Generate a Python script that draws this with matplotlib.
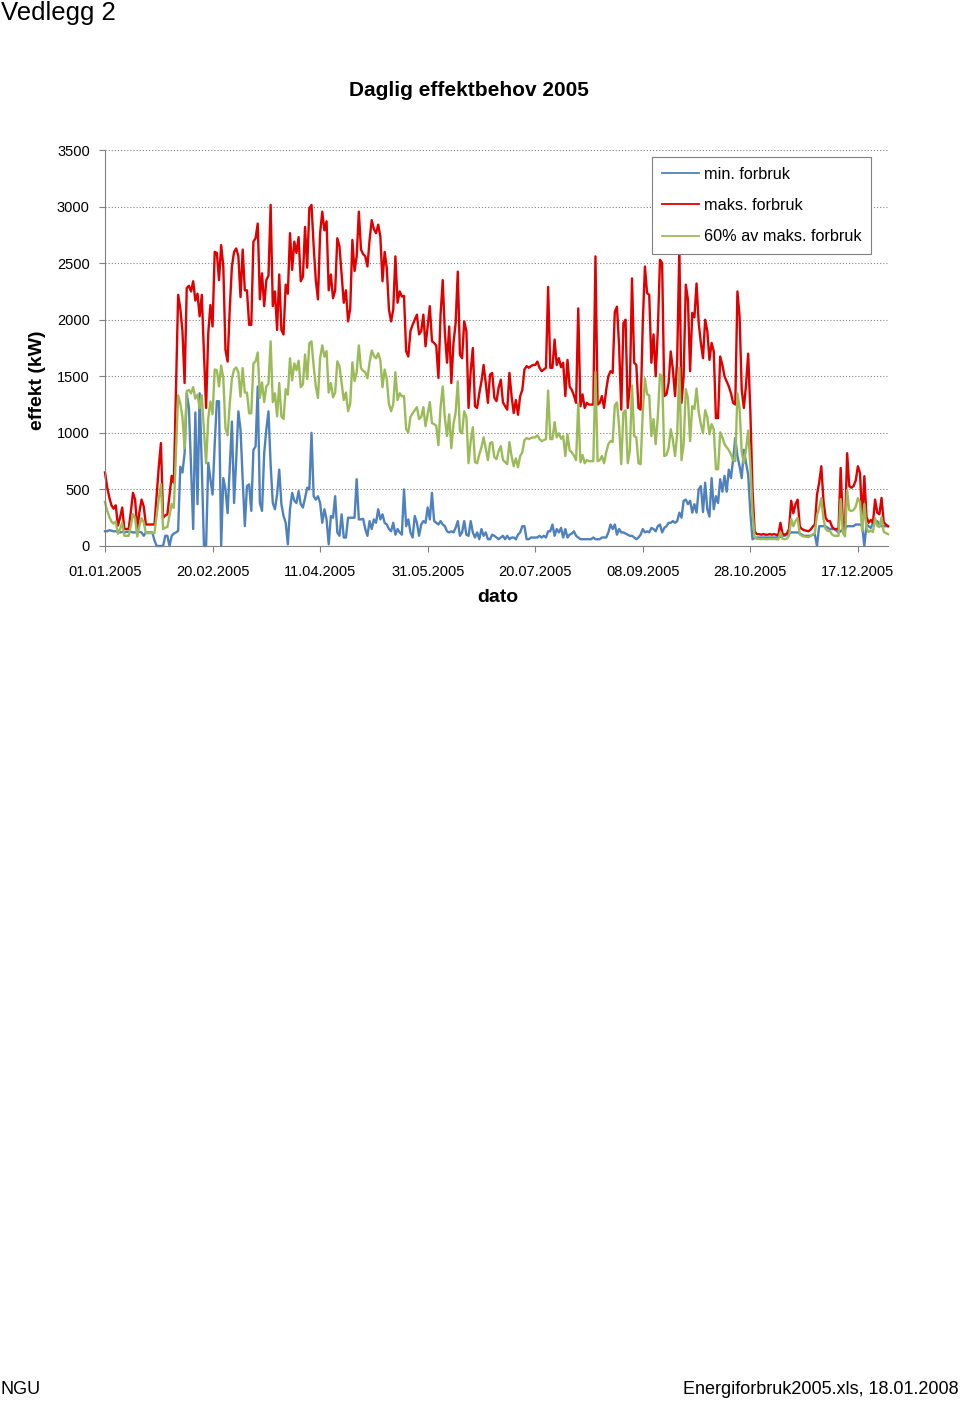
import numpy as np
import pandas as pd
import matplotlib
matplotlib.use("Agg")
import matplotlib.pyplot as plt
import matplotlib.dates as mdates

plt.rcParams['font.family'] = ['Liberation Sans', 'DejaVu Sans']

# Daglige verdier 2005 (kW)
maks_forbruk = [
    650, 520, 430, 360, 330, 360, 180, 250, 340, 150,
    150, 150, 300, 470, 410, 140, 300, 410, 350, 190,
    190, 190, 190, 190, 450, 700, 910, 250, 270, 280,
    450, 620, 560, 1400, 2220, 2100, 1900, 1440, 2280, 2300,
    2250, 2340, 2170, 2230, 2030, 2220, 1700, 1220, 1880, 2130,
    1940, 2600, 2590, 2350, 2660, 2470, 1735, 1630, 2100, 2470,
    2600, 2630, 2560, 2200, 2620, 2260, 2260, 1955, 1955, 2690,
    2720, 2850, 2180, 2410, 2120, 2350, 2390, 3015, 2120, 2250,
    1910, 2400, 1910, 1870, 2310, 2230, 2765, 2440, 2690, 2590,
    2730, 2340, 2380, 2820, 2460, 2985, 3015, 2650, 2350, 2180,
    2765, 2955, 2790, 2870, 2260, 2400, 2190, 2260, 2720, 2650,
    2400, 2150, 2260, 1985, 2100, 2705, 2430, 2560, 2955, 2620,
    2580, 2560, 2470, 2705, 2880, 2800, 2765, 2840, 2735, 2340,
    2600, 2455, 2090, 1985, 2090, 2560, 2150, 2250, 2205, 2210,
    1720, 1675, 1900, 1955, 2000, 2045, 1870, 1900, 2045, 1765,
    1940, 2120, 1810, 1795, 1770, 1485, 2045, 2350, 1880, 1620,
    1940, 1440, 1795, 1970, 2425, 1690, 1660, 1985, 1900, 1220,
    1545, 1750, 1235, 1220, 1350, 1455, 1600, 1440, 1265, 1515,
    1530, 1310, 1280, 1400, 1470, 1270, 1235, 1205, 1530, 1325,
    1175, 1290, 1160, 1325, 1380, 1560, 1590, 1575, 1590, 1600,
    1600, 1630, 1575, 1545, 1560, 1575, 2290, 1575, 1575, 1825,
    1600, 1660, 1580, 1620, 1325, 1645, 1410, 1380, 1330, 1265,
    2100, 1235, 1340, 1220, 1265, 1250, 1250, 1250, 2560, 1250,
    1265, 1325, 1220, 1380, 1500, 1545, 1530, 2070, 2115, 1765,
    1205, 1970, 2000, 1220, 1410, 2365, 1620, 1600, 1220, 1205,
    1970, 2470, 2235, 2220, 1620, 1870, 1500, 1910, 2530, 2500,
    1325, 1340, 1440, 1720, 1560, 1325, 1650, 2630, 1265, 1500,
    2310, 2175, 1545, 2060, 2020, 2320, 1970, 1795, 1660, 2000,
    1900, 1645, 1795, 1720, 1130, 1130, 1675, 1600, 1500, 1455,
    1410, 1350, 1265, 1250, 2250, 2030, 1380, 1220, 1425, 1700,
    1200, 500, 130, 105, 105, 100, 105, 100, 100, 105,
    100, 105, 100, 95, 205, 105, 100, 110, 150, 400,
    290, 370, 410, 170, 150, 140, 135, 130, 145, 170,
    190, 455, 560, 705, 400, 250, 220, 220, 170, 150,
    150, 150, 690, 200, 140, 820, 530, 515, 530, 580,
    705, 645, 220, 617, 260, 205, 230, 205, 410, 295,
    280, 425, 210, 190, 175,
]

min_forbruk = [
    130, 130, 140, 135, 130, 130, 125, 120, 125, 120,
    125, 125, 125, 120, 120, 125, 125, 120, 90, 120,
    120, 120, 120, 50, 0, 0, 0, 0, 90, 90,
    0, 90, 110, 120, 135, 700, 650, 820, 1350, 1220,
    700, 150, 1180, 370, 1350, 700, 0, 0, 735, 590,
    455, 900, 1280, 1280, 0, 600, 500, 290, 700, 1100,
    380, 765, 1190, 1030, 590, 176, 530, 545, 310, 850,
    880, 1410, 380, 310, 820, 1030, 1190, 720, 380, 325,
    455, 675, 370, 265, 205, 15, 325, 470, 400, 380,
    485, 370, 340, 425, 515, 500, 1000, 440, 410, 440,
    380, 205, 325, 235, 15, 265, 250, 440, 120, 90,
    280, 75, 75, 250, 250, 250, 250, 590, 235, 235,
    240, 150, 90, 220, 150, 235, 205, 325, 235, 280,
    205, 190, 150, 130, 205, 100, 150, 120, 100, 500,
    175, 235, 120, 75, 265, 205, 90, 190, 220, 205,
    340, 235, 470, 220, 205, 190, 220, 190, 175, 130,
    120, 130, 120, 160, 220, 90, 120, 220, 100, 90,
    220, 120, 75, 120, 60, 150, 90, 120, 60, 60,
    100, 90, 75, 60, 75, 90, 60, 90, 60, 75,
    75, 60, 100, 120, 175, 175, 60, 60, 75, 75,
    75, 75, 90, 75, 90, 75, 130, 130, 190, 90,
    150, 120, 160, 75, 150, 75, 100, 110, 130, 90,
    75, 60, 60, 60, 60, 60, 60, 75, 60, 60,
    60, 75, 75, 75, 120, 190, 150, 190, 100, 150,
    120, 120, 110, 100, 90, 90, 75, 60, 75, 100,
    150, 120, 130, 120, 160, 150, 130, 175, 190, 120,
    160, 175, 205, 205, 220, 205, 220, 295, 250, 400,
    410, 370, 400, 295, 370, 295, 500, 530, 300, 560,
    325, 260, 600, 325, 440, 380, 590, 480, 620, 480,
    675, 600, 765, 955, 795, 705, 600, 850, 735, 630,
    300, 60, 70, 75, 75, 75, 75, 75, 75, 75,
    75, 75, 75, 80, 80, 90, 90, 100, 110, 120,
    120, 120, 120, 110, 100, 90, 90, 90, 90, 100,
    100, 0, 175, 175, 175, 175, 160, 150, 150, 150,
    135, 120, 130, 150, 160, 175, 175, 175, 175, 190,
    190, 190, 175, 0, 190, 175, 160, 205, 205, 220,
    190, 175, 175, 175, 175,
]

serie_navn = ['min. forbruk', 'maks. forbruk', '60% av maks. forbruk']
serie_farger = ['#4F81BD', '#E00000', '#9BBB59']
y_ticks = [0, 500, 1000, 1500, 2000, 2500, 3000, 3500]


def plotEffektbehov():
    datoer = pd.date_range('2005-01-01', periods=len(maks_forbruk), freq='D')
    maks = np.array(maks_forbruk, dtype=float)
    mini = np.array(min_forbruk, dtype=float)
    seksti = 0.6 * maks

    fig = plt.figure(figsize=(9.6, 14.02), dpi=100)
    ax = fig.add_axes([105 / 960, 1 - 546 / 1402, 783 / 960, 396 / 1402])

    for verdier, navn, farge in zip([mini, maks, seksti], serie_navn, serie_farger):
        ax.plot(datoer, verdier, color=farge, lw=1.7, label=navn, clip_on=False)

    ax.set_ylim(0, 3500)
    ax.set_yticks(y_ticks)
    ax.set_xlim(datoer[0], datoer[-1])
    ax.set_xticks(pd.date_range('2005-01-01', '2005-12-31', freq='50D'))
    ax.xaxis.set_major_formatter(mdates.DateFormatter('%d.%m.%Y'))

    ax.grid(axis='y', color='#808080', linestyle=(0, (1, 1.8)), lw=0.8)
    ax.set_axisbelow(True)
    for side in ['top', 'right']:
        ax.spines[side].set_visible(False)
    for side in ['left', 'bottom']:
        ax.spines[side].set_color('#808080')
        ax.spines[side].set_linewidth(0.8)
    ax.tick_params(axis='both', labelsize=10.5, color='#808080', length=4, width=0.8)
    ax.tick_params(axis='y', pad=7)
    ax.tick_params(axis='x', pad=9.5)

    leg = ax.legend(loc='upper right', bbox_to_anchor=(0.9785, 0.982), fontsize=11.7,
                    handlelength=2.3, handletextpad=0.3, labelspacing=1.0,
                    borderpad=0.6, fancybox=False, framealpha=1, borderaxespad=0)
    leg.get_frame().set_edgecolor('#808080')
    leg.get_frame().set_linewidth(0.8)
    for linje in leg.get_lines():
        linje.set_linewidth(1.3)

    fig.text(0.001, 1 - 13 / 1402, 'Vedlegg 2', fontsize=18.5, ha='left', va='center')
    fig.text(469 / 960, 1 - 90 / 1402, 'Daglig effektbehov 2005', fontsize=15,
             fontweight='bold', ha='center', va='center')
    fig.text(37 / 960, 1 - 380 / 1402, 'effekt (kW)', fontsize=14, fontweight='bold',
             rotation=90, ha='center', va='center')
    fig.text(498 / 960, 1 - 597 / 1402, 'dato', fontsize=14, fontweight='bold',
             ha='center', va='center')
    fig.text(0.001, 1 - 1390 / 1402, 'NGU', fontsize=13, ha='left', va='center')
    fig.text(0.999, 1 - 1390 / 1402, 'Energiforbruk2005.xls, 18.01.2008', fontsize=13,
             ha='right', va='center')

    fig.savefig('out.png', dpi=100)


if __name__ == "__main__":
    plotEffektbehov()
